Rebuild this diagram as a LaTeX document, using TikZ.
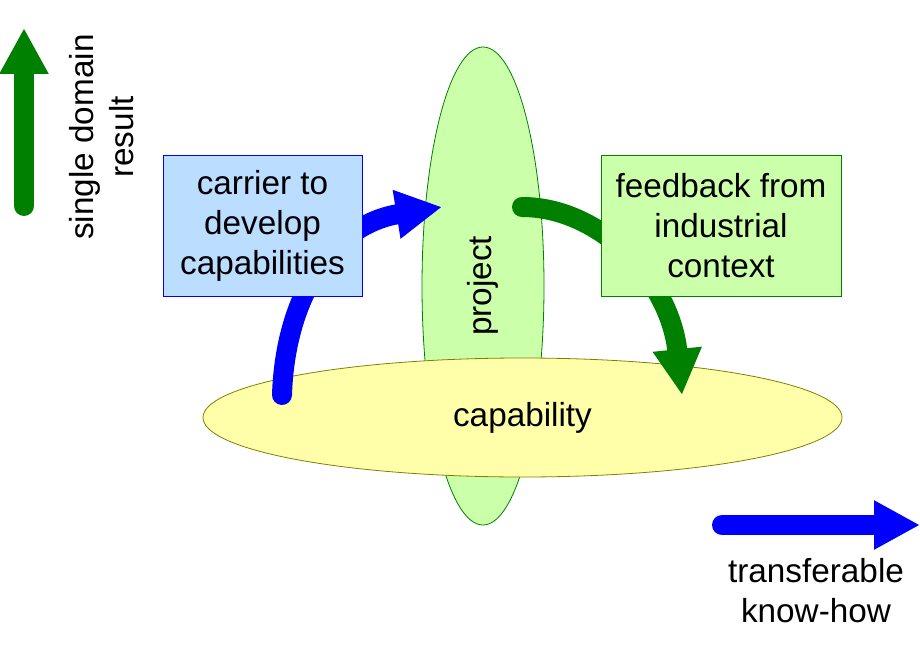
\documentclass[tikz,border=0pt]{standalone}
\usepackage{fontspec}
\setmainfont{Liberation Sans}
\usetikzlibrary{arrows.meta,shapes.geometric}
\definecolor{myblue}{HTML}{0000FF}
\definecolor{mygreen}{HTML}{008000}
\definecolor{boxblue}{HTML}{BBDDFF}
\definecolor{boxgreen}{HTML}{CCFFAA}
\definecolor{capyellow}{HTML}{FFFFAA}
\definecolor{capborder}{HTML}{808000}
\tikzset{
  lbl/.style={font=\fontsize{33.3}{40}\selectfont, align=center, text=black},
  fatarrow/.style={line width=20pt, line cap=round, -{Triangle[length=46pt,width=46pt]}},
  infobox/.style={lbl, draw, line width=1pt, inner sep=0pt},
}
\begin{document}
\begin{tikzpicture}[x=1pt,y=-1pt]
\useasboundingbox (0,0) rectangle (920,660);
% ellipses
\node[ellipse, draw=mygreen, fill=boxgreen, line width=0.8pt, rotate=90,
      minimum width=478pt, minimum height=122pt, inner sep=0pt, lbl] (proj) at (483,286) {project};
\node[ellipse, draw=capborder, fill=capyellow, line width=0.8pt,
      minimum width=639pt, minimum height=119pt, inner sep=0pt, lbl] (cap) at (522.5,417.5) {capability};
% curved arrows
\coordinate (b0) at (282,395);
\coordinate (b1) at (442,207);
\coordinate (g0) at (522,207);
\coordinate (g1) at (682,395);
\draw[fatarrow, myblue] (b0) .. controls (285,300) and (330,225) .. (b1);
\draw[fatarrow, mygreen] (g0) .. controls (600,207) and (670,280) .. (g1);
% boxes
\node[infobox, draw=myblue, fill=boxblue, minimum width=199pt, minimum height=140pt] (carrier) at (262.5,226) {carrier to\\develop\\capabilities};
\node[infobox, draw=mygreen, fill=boxgreen, minimum width=240pt, minimum height=140pt] (feedback) at (721,226) {feedback from\\industrial\\context};
% axis arrows
\coordinate (u0) at (24,206);
\coordinate (u1) at (24,28);
\draw[fatarrow, mygreen] (u0) -- (u1);
\node[lbl, rotate=90] (single) at (102,137) {single domain\\result};
\coordinate (r0) at (722,525);
\coordinate (r1) at (920,525);
\draw[fatarrow, myblue] (r0) -- (r1);
\node[lbl] (transfer) at (816,591) {transferable\\know-how};
\end{tikzpicture}
\end{document}
